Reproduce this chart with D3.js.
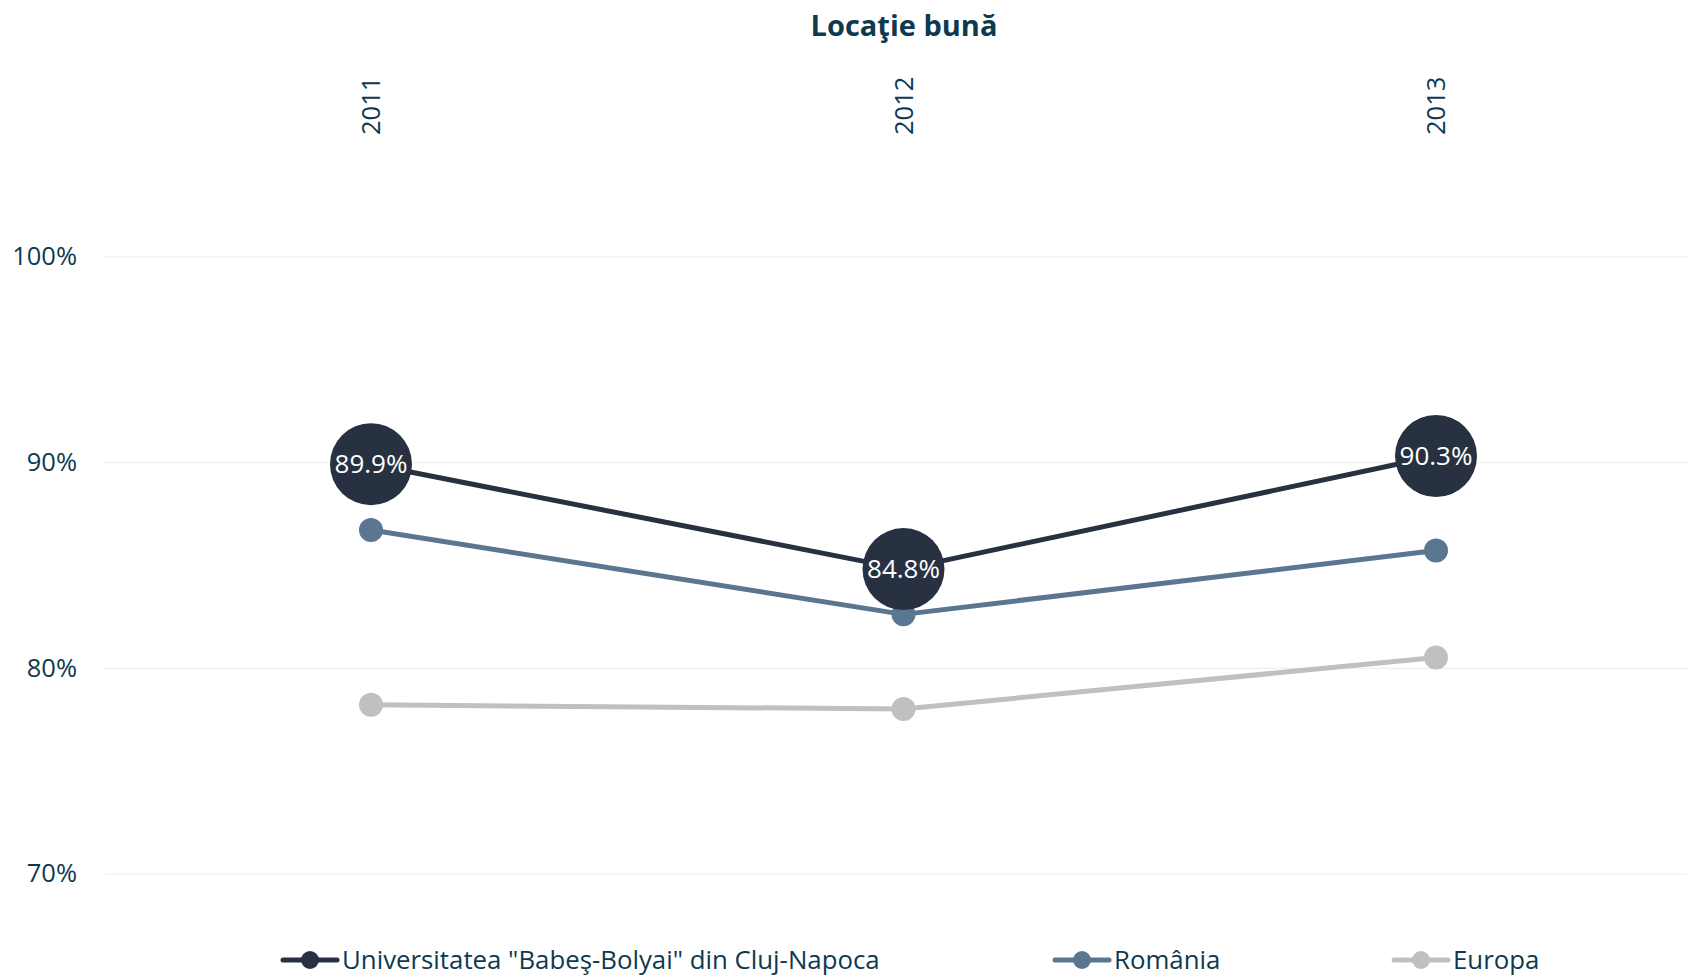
<!DOCTYPE html>
<html>
<head>
<meta charset="utf-8">
<script src="https://cdn.jsdelivr.net/npm/d3@7"></script>
<style>
  html, body { margin: 0; padding: 0; background: #fff; }
  svg { display: block; }
</style>
</head>
<body>
<svg id="chart" width="1687" height="976"></svg>
<script>
const title = "Locaţie bună";
const years = ["2011", "2012", "2013"];
const seriesNames = ["Universitatea \"Babeş-Bolyai\" din Cluj-Napoca", "România", "Europa"];
const ubbValues = [89.9, 84.8, 90.3];
const romaniaValues = [86.7, 82.6, 85.7];
const europaValues = [78.2, 78.0, 80.5];
const yTicks = [70, 80, 90, 100];

const colors = ["#283142", "#5a7690", "#c0c0c0"];
const textColor = "#0d3a4f";

const svg = d3.select("#chart");
const W = 1687, H = 976;

const x = d3.scalePoint().domain(years).range([371, 1436]);
const y = d3.scaleLinear().domain([70, 100]).range([873.5, 256.5]);

// title
svg.append("text")
  .attr("x", 904).attr("y", 36)
  .attr("text-anchor", "middle")
  .attr("font-family", "'Open Sans', sans-serif")
  .attr("font-weight", "bold")
  .attr("font-size", 29)
  .attr("fill", textColor)
  .text(title);

// gridlines + y labels
const yAxis = d3.axisLeft(y).tickValues(yTicks).tickSize(-(W - 105)).tickFormat(d => d + "%");
const gy = svg.append("g").attr("transform", "translate(105,0)").call(yAxis);
gy.select(".domain").remove();
gy.selectAll(".tick line").attr("stroke", "#ebebeb").attr("stroke-width", 1);
gy.selectAll(".tick text")
  .attr("x", -28)
  .attr("font-family", "'Open Sans', sans-serif")
  .attr("font-size", 25.5)
  .attr("fill", textColor);

// top year labels
const xAxis = d3.axisTop(x).tickSize(0);
const gx = svg.append("g").attr("transform", "translate(0,135)").call(xAxis);
gx.select(".domain").remove();
gx.selectAll(".tick text")
  .attr("transform", "rotate(-90)")
  .attr("x", 0).attr("y", 0).attr("dy", "0.35em")
  .attr("text-anchor", "start")
  .attr("font-family", "'Open Sans', sans-serif")
  .attr("font-size", 25.5)
  .attr("fill", textColor);

const allSeries = [ubbValues, romaniaValues, europaValues];
const line = d3.line().x((d, i) => x(years[i])).y(d => y(d));

// draw back to front: Europa, România, UBB
[2, 1, 0].forEach(si => {
  const vals = allSeries[si];
  const g = svg.append("g");
  g.append("path")
    .datum(vals)
    .attr("d", line)
    .attr("fill", "none")
    .attr("stroke", colors[si])
    .attr("stroke-width", 5)
    .attr("stroke-linejoin", "round");
  g.selectAll("circle")
    .data(vals)
    .enter().append("circle")
    .attr("cx", (d, i) => x(years[i]))
    .attr("cy", d => y(d))
    .attr("r", si === 0 ? 41 : 12)
    .attr("fill", colors[si]);
  if (si === 0) {
    g.selectAll("text")
      .data(vals)
      .enter().append("text")
      .attr("x", (d, i) => x(years[i]))
      .attr("y", d => y(d))
      .attr("dy", "0.35em")
      .attr("text-anchor", "middle")
      .attr("font-family", "'Open Sans', sans-serif")
      .attr("font-size", 26)
      .attr("fill", "#ffffff")
      .text(d => d.toFixed(1) + "%");
  }
});

// legend
const legendX = [283, 1055, 1394];
const legendY = 960;
seriesNames.forEach((name, i) => {
  const g = svg.append("g").attr("transform", `translate(${legendX[i]},${legendY})`);
  g.append("line")
    .attr("x1", 0).attr("x2", 54).attr("y1", 0).attr("y2", 0)
    .attr("stroke", colors[i]).attr("stroke-width", 5).attr("stroke-linecap", "round");
  g.append("circle").attr("cx", 27).attr("cy", 0).attr("r", 9).attr("fill", colors[i]);
  g.append("text")
    .attr("x", 59).attr("y", 0).attr("dy", "0.35em")
    .attr("font-family", "'Open Sans', sans-serif")
    .attr("font-size", 25.8)
    .attr("fill", textColor)
    .text(name);
});
</script>
</body>
</html>
